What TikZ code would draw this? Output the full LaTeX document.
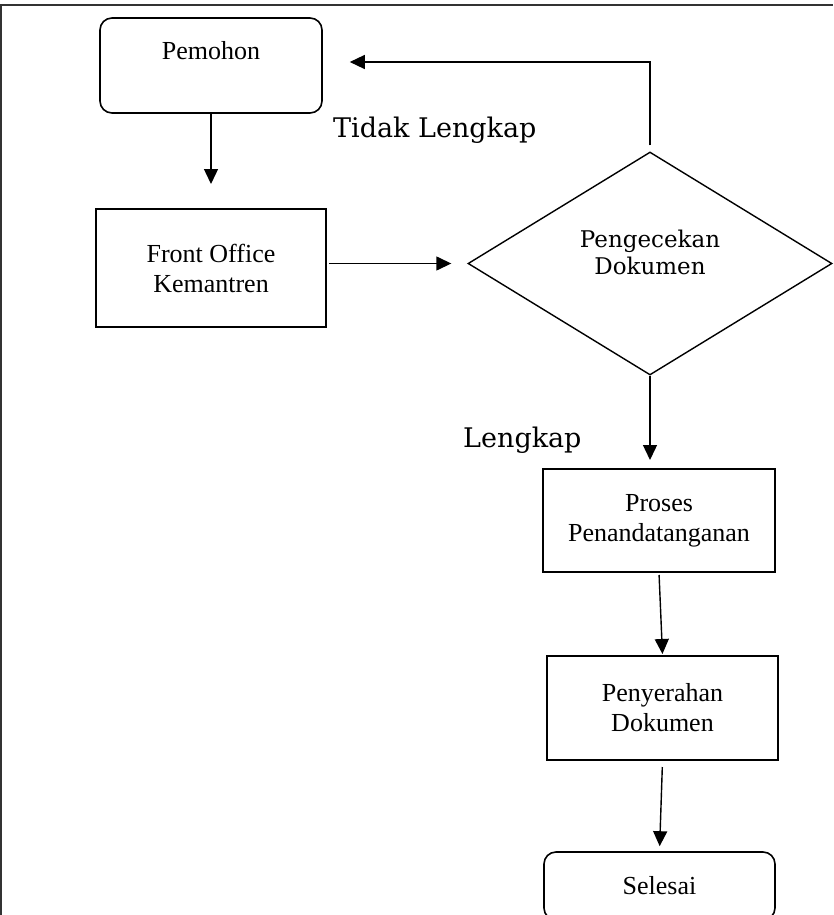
\documentclass[tikz,border=0pt]{standalone}
\usepackage{fontspec}
\setmainfont{Liberation Serif}
\newfontfamily\bookfont{DejaVu Serif}
\usetikzlibrary{positioning, calc, arrows.meta, shapes.geometric}
\tikzset{box/.style={draw, line width=2pt, align=center, inner sep=0pt, font=\fontsize{26}{30}\selectfont}}
\tikzset{terminal/.style={box, rounded corners=12pt, line width=1.6pt}}
\tikzset{decision/.style={draw, diamond, line width=1.4pt, inner sep=0pt}}
\tikzset{flow/.style={line width=1.4pt, -{Triangle[length=15pt,width=14pt]}}}
\tikzset{cond/.style={inner sep=0pt, font=\bookfont\fontsize{27}{32}\selectfont}}

\begin{document}
\begin{tikzpicture}[x=1pt, y=-1pt]
      \useasboundingbox (0,0) rectangle (833,915);
      \clip (0,0) rectangle (833,915);
      \draw[line width=1.6pt, black!80] (1,915) -- (1,5) -- (833,5);

      \node[terminal, minimum width=222pt, minimum height=95pt] (pem) at (211,65.5) {Pemohon\\ \mbox{}};
      \node[box, minimum width=230pt, minimum height=118pt] (fo) at (211,268) {Front Office\\Kemantren};
      \node[decision, minimum width=364pt, minimum height=223pt] (dia) at (650,263.5)
        [label={[yshift=11pt, inner sep=0pt, align=center, font=\bookfont\fontsize{23}{27}\selectfont]center:Pengecekan\\Dokumen}] {};
      \node[box, minimum width=232pt, minimum height=103pt] (pro) at (659,520.5) {Proses\\Penandatanganan};
      \node[box, minimum width=231pt, minimum height=104pt] (pen) at (662.5,708) {Penyerahan\\Dokumen};
      \node[terminal, minimum width=231pt, minimum height=68pt] (sel) at (659.5,886) {Selesai};

      \node[cond, anchor=base west] (tidak) at (333,137) {Tidak Lengkap};
      \node[cond, anchor=base west] (lengkap) at (463,447) {Lengkap};

      \draw[flow, shorten >=24pt] (pem.south) -- (fo.north);
      \draw[flow, shorten <=2pt, shorten >=16pt] (fo.east |- dia.west) -- (dia.west);
      \draw[flow, shorten <=6pt, shorten >=27pt] (dia.north) |- ([yshift=3.5pt]pem.east);
      \draw[flow, shorten >=8pt] (dia.south) -- (dia.south |- pro.north);
      \draw[flow, shorten <=2pt, shorten >=1pt] (pro.south) -- (pen.north);
      \draw[flow, shorten <=6pt, shorten >=5pt] (pen.south) -- (sel.north);
    \end{tikzpicture}
\end{document}
